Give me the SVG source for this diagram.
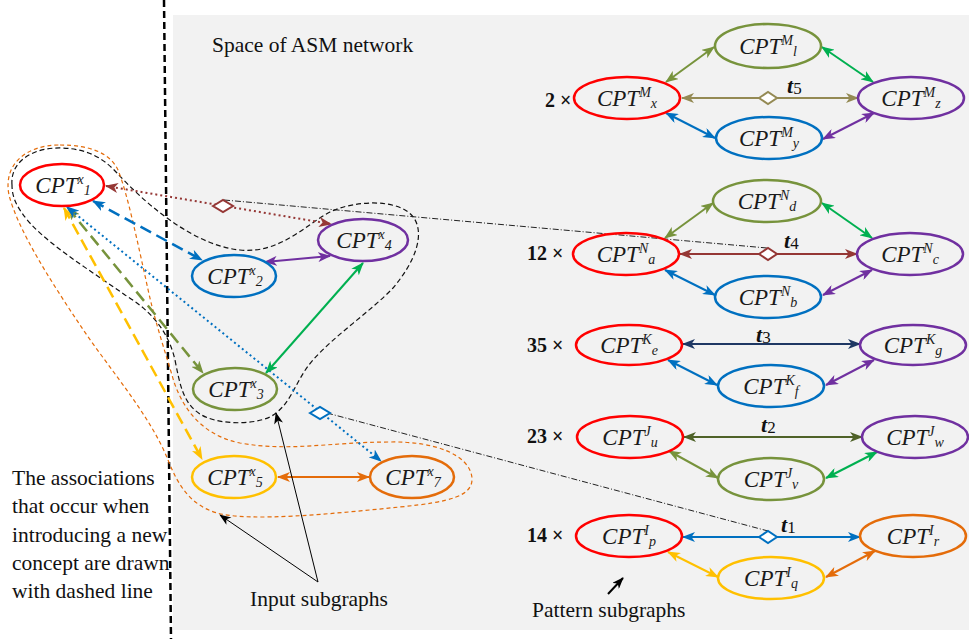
<svg xmlns="http://www.w3.org/2000/svg" width="969" height="639" viewBox="0 0 969 639">
<style>
.n{fill:none;stroke-width:2.5}
.lb{font-family:"Liberation Serif",serif;font-style:italic;font-size:23px;fill:#1a1a1a;text-anchor:middle}
.sp,.sb{font-size:14px}
.t{font-family:"Liberation Serif",serif;font-weight:bold;font-style:italic;font-size:22px;fill:#111}
.ts{font-style:normal;font-weight:normal;font-size:17px}
.mul{font-family:"Liberation Serif",serif;font-weight:bold;font-size:20px;fill:#111}
.txt{font-family:"Liberation Serif",serif;font-size:21.5px;fill:#111}
.c{fill:none;stroke-width:2}
.dsh{stroke-width:2.5;stroke-dasharray:12 6}
.dot{stroke-width:2;stroke-dasharray:2 3}
.dd{fill:none;stroke:#222;stroke-width:1;stroke-dasharray:6 2 1 2}
.dm{stroke-width:2;fill:#fff}
</style>
<defs>
<marker id="m-olive" viewBox="0 0 13 10" refX="12" refY="5" markerWidth="13" markerHeight="10" markerUnits="userSpaceOnUse" orient="auto-start-reverse"><path d="M0,0L13,5L0,10L3.5,5Z" fill="#77933C"/></marker>
<marker id="m-green" viewBox="0 0 13 10" refX="12" refY="5" markerWidth="13" markerHeight="10" markerUnits="userSpaceOnUse" orient="auto-start-reverse"><path d="M0,0L13,5L0,10L3.5,5Z" fill="#00B050"/></marker>
<marker id="m-khaki" viewBox="0 0 13 10" refX="12" refY="5" markerWidth="13" markerHeight="10" markerUnits="userSpaceOnUse" orient="auto-start-reverse"><path d="M0,0L13,5L0,10L3.5,5Z" fill="#948A54"/></marker>
<marker id="m-blue" viewBox="0 0 13 10" refX="12" refY="5" markerWidth="13" markerHeight="10" markerUnits="userSpaceOnUse" orient="auto-start-reverse"><path d="M0,0L13,5L0,10L3.5,5Z" fill="#0070C0"/></marker>
<marker id="m-purple" viewBox="0 0 13 10" refX="12" refY="5" markerWidth="13" markerHeight="10" markerUnits="userSpaceOnUse" orient="auto-start-reverse"><path d="M0,0L13,5L0,10L3.5,5Z" fill="#7030A0"/></marker>
<marker id="m-brown" viewBox="0 0 13 10" refX="12" refY="5" markerWidth="13" markerHeight="10" markerUnits="userSpaceOnUse" orient="auto-start-reverse"><path d="M0,0L13,5L0,10L3.5,5Z" fill="#953735"/></marker>
<marker id="m-navy" viewBox="0 0 13 10" refX="12" refY="5" markerWidth="13" markerHeight="10" markerUnits="userSpaceOnUse" orient="auto-start-reverse"><path d="M0,0L13,5L0,10L3.5,5Z" fill="#1F3864"/></marker>
<marker id="m-dolive" viewBox="0 0 13 10" refX="12" refY="5" markerWidth="13" markerHeight="10" markerUnits="userSpaceOnUse" orient="auto-start-reverse"><path d="M0,0L13,5L0,10L3.5,5Z" fill="#4F6228"/></marker>
<marker id="m-yellow" viewBox="0 0 13 10" refX="12" refY="5" markerWidth="13" markerHeight="10" markerUnits="userSpaceOnUse" orient="auto-start-reverse"><path d="M0,0L13,5L0,10L3.5,5Z" fill="#FFC000"/></marker>
<marker id="m-orange" viewBox="0 0 13 10" refX="12" refY="5" markerWidth="13" markerHeight="10" markerUnits="userSpaceOnUse" orient="auto-start-reverse"><path d="M0,0L13,5L0,10L3.5,5Z" fill="#E46C0A"/></marker>
<marker id="m-black" viewBox="0 0 13 10" refX="12" refY="5" markerWidth="12" markerHeight="9" markerUnits="userSpaceOnUse" orient="auto-start-reverse"><path d="M0,0L13,5L0,10L3.5,5Z" fill="#000"/></marker>
</defs>

<rect x="173" y="15" width="796" height="615" fill="#F2F2F2"/>
<line x1="164" y1="0" x2="171" y2="639" stroke="#000" stroke-width="2.5" stroke-dasharray="7 4"/>

<g id="enclosures">
<path d="M12,185 C10,160 35,147 62,148 C90,149 105,160 117,173 C140,198 190,245 240,250 C280,254 305,225 330,212 C355,200 400,198 414,218 C425,235 415,262 393,288 C370,312 335,335 313,360 C295,380 292,405 270,417 C250,426 215,424 200,414 C183,403 180,385 175,360 C168,330 150,310 125,295 C90,270 40,240 22,213 C15,203 12,195 12,185 Z" fill="none" stroke="#111" stroke-width="1.2" stroke-dasharray="5 3"/>
<path d="M60,145 C90,145 110,153 118,170 C128,195 138,245 146,280 C153,315 163,345 172,375 C180,405 200,435 240,443 C290,452 330,442 390,442 C435,441 470,455 472,478 C473,496 450,502 400,507 C330,514 250,522 217,513 C190,505 178,485 168,460 C150,415 110,370 80,325 C50,280 18,230 9,195 C3,165 25,145 60,145 Z" fill="none" stroke="#E46C0A" stroke-width="1.2" stroke-dasharray="4 3"/>
</g>

<g id="connectors">
<line class="dd" x1="224" y1="200" x2="767" y2="248"/>
<line class="dd" x1="327" y1="413" x2="768" y2="531"/>
<line class="c dot" x1="106" y1="186" x2="331" y2="224" stroke="#953735" marker-start="url(#m-brown)" marker-end="url(#m-brown)"/>
<path class="dm" d="M213,206 L223,200 L233,206 L223,212 Z" stroke="#953735"/>
<line class="c dsh" x1="93" y1="201" x2="202" y2="260" stroke="#0070C0" marker-start="url(#m-blue)" marker-end="url(#m-blue)"/>
<line class="c dsh" x1="68" y1="208" x2="203" y2="373" stroke="#77933C" marker-start="url(#m-olive)" marker-end="url(#m-olive)"/>
<line class="c dsh" x1="64" y1="208" x2="202" y2="459" stroke="#FFC000" marker-start="url(#m-yellow)" marker-end="url(#m-yellow)"/>
<line class="c dot" x1="67" y1="207" x2="381" y2="461" stroke="#0070C0" marker-start="url(#m-blue)" marker-end="url(#m-blue)"/>
<path class="dm" d="M310,413 L320,407 L330,413 L320,419 Z" stroke="#0070C0"/>
<line class="c" x1="265" y1="262" x2="330" y2="256" stroke="#7030A0" marker-start="url(#m-purple)" marker-end="url(#m-purple)"/>
<line class="c" x1="266" y1="373" x2="363" y2="263" stroke="#00B050" marker-start="url(#m-green)" marker-end="url(#m-green)"/>
<line class="c" x1="278" y1="477" x2="369" y2="477" stroke="#E46C0A" marker-start="url(#m-orange)" marker-end="url(#m-orange)"/>
<line class="c" x1="666" y1="82" x2="714" y2="47" stroke="#77933C" marker-start="url(#m-olive)" marker-end="url(#m-olive)"/>
<line class="c" x1="822" y1="47" x2="873" y2="82" stroke="#00B050" marker-start="url(#m-green)" marker-end="url(#m-green)"/>
<line class="c" x1="682" y1="98" x2="858" y2="98" stroke="#948A54" marker-start="url(#m-khaki)" marker-end="url(#m-khaki)"/>
<path class="dm" d="M759,98 L768,92 L777,98 L768,104 Z" stroke="#948A54"/>
<line class="c" x1="666" y1="113" x2="715" y2="138" stroke="#0070C0" marker-start="url(#m-blue)" marker-end="url(#m-blue)"/>
<line class="c" x1="823" y1="139" x2="874" y2="113" stroke="#7030A0" marker-start="url(#m-purple)" marker-end="url(#m-purple)"/>
<line class="c" x1="665" y1="238" x2="713" y2="203" stroke="#77933C" marker-start="url(#m-olive)" marker-end="url(#m-olive)"/>
<line class="c" x1="822" y1="203" x2="872" y2="238" stroke="#00B050" marker-start="url(#m-green)" marker-end="url(#m-green)"/>
<line class="c" x1="680" y1="254" x2="857" y2="254" stroke="#953735" marker-start="url(#m-brown)" marker-end="url(#m-brown)"/>
<path class="dm" d="M759,254 L768,248 L777,254 L768,260 Z" stroke="#953735"/>
<line class="c" x1="665" y1="270" x2="715" y2="295" stroke="#0070C0" marker-start="url(#m-blue)" marker-end="url(#m-blue)"/>
<line class="c" x1="823" y1="295" x2="872" y2="270" stroke="#7030A0" marker-start="url(#m-purple)" marker-end="url(#m-purple)"/>
<line class="c" x1="683" y1="344" x2="860" y2="344" stroke="#1F3864" marker-start="url(#m-navy)" marker-end="url(#m-navy)"/>
<line class="c" x1="668" y1="360" x2="717" y2="385" stroke="#0070C0" marker-start="url(#m-blue)" marker-end="url(#m-blue)"/>
<line class="c" x1="826" y1="385" x2="874" y2="360" stroke="#7030A0" marker-start="url(#m-purple)" marker-end="url(#m-purple)"/>
<line class="c" x1="684" y1="437" x2="862" y2="437" stroke="#4F6228" marker-start="url(#m-dolive)" marker-end="url(#m-dolive)"/>
<line class="c" x1="669" y1="451" x2="718" y2="478" stroke="#77933C" marker-start="url(#m-olive)" marker-end="url(#m-olive)"/>
<line class="c" x1="826" y1="478" x2="877" y2="452" stroke="#00B050" marker-start="url(#m-green)" marker-end="url(#m-green)"/>
<line class="c" x1="683" y1="537" x2="860" y2="537" stroke="#0070C0" marker-start="url(#m-blue)" marker-end="url(#m-blue)"/>
<path class="dm" d="M759,537 L768,531 L777,537 L768,543 Z" stroke="#0070C0"/>
<line class="c" x1="668" y1="552" x2="718" y2="577" stroke="#FFC000" marker-start="url(#m-yellow)" marker-end="url(#m-yellow)"/>
<line class="c" x1="826" y1="577" x2="875" y2="551" stroke="#E46C0A" marker-start="url(#m-orange)" marker-end="url(#m-orange)"/>
<line x1="318" y1="582" x2="276" y2="413" stroke="#000" stroke-width="1" marker-end="url(#m-black)"/>
<line x1="318" y1="582" x2="220" y2="515" stroke="#000" stroke-width="1" marker-end="url(#m-black)"/>
<line x1="608" y1="594" x2="623" y2="578" stroke="#000" stroke-width="2" marker-end="url(#m-black)"/>
</g>

<g id="edge-labels">
<text class="t" x="787" y="93">t<tspan class="ts" dy="1">5</tspan></text>
<text class="t" x="784" y="248">t<tspan class="ts" dy="1">4</tspan></text>
<text class="t" x="756" y="342">t<tspan class="ts" dy="1">3</tspan></text>
<text class="t" x="761" y="432">t<tspan class="ts" dy="1">2</tspan></text>
<text class="t" x="781" y="532">t<tspan class="ts" dy="1">1</tspan></text>
</g>

<g id="x1"><ellipse class="n" cx="62" cy="185" rx="42" ry="21" stroke="#FF0000"/><text class="lb" x="63" y="193">CPT<tspan class="sp" dy="-9">x</tspan><tspan class="sb" dy="11">1</tspan></text></g>
<g id="x2"><ellipse class="n" cx="234" cy="276" rx="42" ry="21" stroke="#0070C0"/><text class="lb" x="235" y="284">CPT<tspan class="sp" dy="-9">x</tspan><tspan class="sb" dy="11">2</tspan></text></g>
<g id="x4"><ellipse class="n" cx="363" cy="240" rx="45" ry="21" stroke="#7030A0"/><text class="lb" x="364" y="248">CPT<tspan class="sp" dy="-9">x</tspan><tspan class="sb" dy="11">4</tspan></text></g>
<g id="x3"><ellipse class="n" cx="235" cy="389" rx="42" ry="21" stroke="#77933C"/><text class="lb" x="236" y="397">CPT<tspan class="sp" dy="-9">x</tspan><tspan class="sb" dy="11">3</tspan></text></g>
<g id="x5"><ellipse class="n" cx="234" cy="477" rx="42" ry="21" stroke="#FFC000"/><text class="lb" x="235" y="485">CPT<tspan class="sp" dy="-9">x</tspan><tspan class="sb" dy="11">5</tspan></text></g>
<g id="x7"><ellipse class="n" cx="412" cy="477" rx="42" ry="21" stroke="#E46C0A"/><text class="lb" x="413" y="485">CPT<tspan class="sp" dy="-9">x</tspan><tspan class="sb" dy="11">7</tspan></text></g>

<g id="Mx"><ellipse class="n" cx="627" cy="98" rx="53" ry="21" stroke="#FF0000"/><text class="lb" x="627" y="106">CPT<tspan class="sp" dy="-9">M</tspan><tspan class="sb" dy="11">x</tspan></text></g>
<g id="Ml"><ellipse class="n" cx="768" cy="46" rx="53" ry="22" stroke="#77933C"/><text class="lb" x="768" y="54">CPT<tspan class="sp" dy="-9">M</tspan><tspan class="sb" dy="11">l</tspan></text></g>
<g id="Mz"><ellipse class="n" cx="911" cy="98" rx="53" ry="21" stroke="#7030A0"/><text class="lb" x="911" y="106">CPT<tspan class="sp" dy="-9">M</tspan><tspan class="sb" dy="11">z</tspan></text></g>
<g id="My"><ellipse class="n" cx="769" cy="138" rx="53" ry="21" stroke="#0070C0"/><text class="lb" x="769" y="146">CPT<tspan class="sp" dy="-9">M</tspan><tspan class="sb" dy="11">y</tspan></text></g>

<g id="Na"><ellipse class="n" cx="626" cy="254" rx="53" ry="21" stroke="#FF0000"/><text class="lb" x="626" y="262">CPT<tspan class="sp" dy="-9">N</tspan><tspan class="sb" dy="11">a</tspan></text></g>
<g id="Nd"><ellipse class="n" cx="767" cy="201" rx="54" ry="21" stroke="#77933C"/><text class="lb" x="767" y="209">CPT<tspan class="sp" dy="-9">N</tspan><tspan class="sb" dy="11">d</tspan></text></g>
<g id="Nc"><ellipse class="n" cx="910" cy="254" rx="53" ry="21" stroke="#7030A0"/><text class="lb" x="910" y="262">CPT<tspan class="sp" dy="-9">N</tspan><tspan class="sb" dy="11">c</tspan></text></g>
<g id="Nb"><ellipse class="n" cx="768" cy="297" rx="53" ry="21" stroke="#0070C0"/><text class="lb" x="768" y="305">CPT<tspan class="sp" dy="-9">N</tspan><tspan class="sb" dy="11">b</tspan></text></g>

<g id="Ke"><ellipse class="n" cx="629" cy="345" rx="53" ry="20" stroke="#FF0000"/><text class="lb" x="629" y="353">CPT<tspan class="sp" dy="-9">K</tspan><tspan class="sb" dy="11">e</tspan></text></g>
<g id="Kg"><ellipse class="n" cx="913" cy="345" rx="53" ry="20" stroke="#7030A0"/><text class="lb" x="913" y="353">CPT<tspan class="sp" dy="-9">K</tspan><tspan class="sb" dy="11">g</tspan></text></g>
<g id="Kf"><ellipse class="n" cx="771" cy="386" rx="53" ry="21" stroke="#0070C0"/><text class="lb" x="771" y="394">CPT<tspan class="sp" dy="-9">K</tspan><tspan class="sb" dy="11">f</tspan></text></g>

<g id="Ju"><ellipse class="n" cx="630" cy="437" rx="53" ry="21" stroke="#FF0000"/><text class="lb" x="630" y="445">CPT<tspan class="sp" dy="-9">J</tspan><tspan class="sb" dy="11">u</tspan></text></g>
<g id="Jw"><ellipse class="n" cx="915" cy="437" rx="53" ry="21" stroke="#7030A0"/><text class="lb" x="915" y="445">CPT<tspan class="sp" dy="-9">J</tspan><tspan class="sb" dy="11">w</tspan></text></g>
<g id="Jv"><ellipse class="n" cx="771" cy="479" rx="53" ry="21" stroke="#77933C"/><text class="lb" x="771" y="487">CPT<tspan class="sp" dy="-9">J</tspan><tspan class="sb" dy="11">v</tspan></text></g>

<g id="Ip"><ellipse class="n" cx="629" cy="536" rx="53" ry="21" stroke="#FF0000"/><text class="lb" x="629" y="544">CPT<tspan class="sp" dy="-9">I</tspan><tspan class="sb" dy="11">p</tspan></text></g>
<g id="Ir"><ellipse class="n" cx="913" cy="536" rx="53" ry="21" stroke="#E46C0A"/><text class="lb" x="913" y="544">CPT<tspan class="sp" dy="-9">I</tspan><tspan class="sb" dy="11">r</tspan></text></g>
<g id="Iq"><ellipse class="n" cx="771" cy="578" rx="53" ry="21" stroke="#FFC000"/><text class="lb" x="771" y="586">CPT<tspan class="sp" dy="-9">I</tspan><tspan class="sb" dy="11">q</tspan></text></g>

<g id="labels">
<text class="txt" x="212" y="52">Space of ASM network</text>
<text class="mul" x="545" y="107">2 ×</text>
<text class="mul" x="527" y="260">12 ×</text>
<text class="mul" x="527" y="352">35 ×</text>
<text class="mul" x="527" y="443">23 ×</text>
<text class="mul" x="527" y="542">14 ×</text>
<text class="txt" x="12" y="485">The associations</text>
<text class="txt" x="12" y="513">that occur when</text>
<text class="txt" x="12" y="542">introducing a new</text>
<text class="txt" x="12" y="570">concept are drawn</text>
<text class="txt" x="12" y="598">with dashed line</text>
<text class="txt" x="250" y="606">Input subgraphs</text>
<text class="txt" x="532" y="617">Pattern subgraphs</text>
</g>
</svg>
